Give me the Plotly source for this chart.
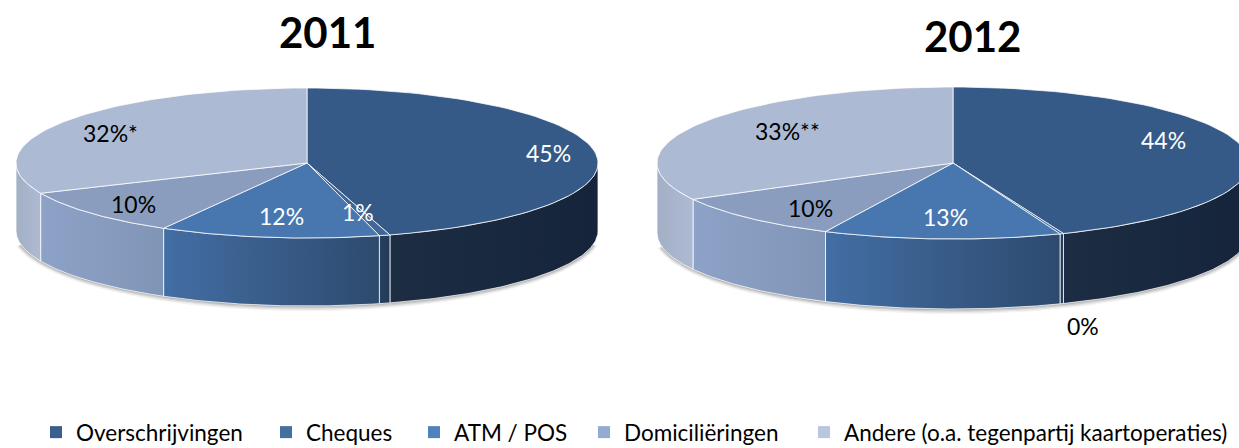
import numpy as np
import plotly.graph_objects as go

# ---- data ----
categories = ["Overschrijvingen", "Cheques", "ATM / POS", "Domiciliëringen",
              "Andere (o.a. tegenpartij kaartoperaties)"]
values_2011 = [45.4, 0.6, 12.2, 10.2, 31.6]
values_2012 = [44, 0.2, 13, 10, 33]
labels_2011 = ["45%", "1%", "12%", "10%", "32%*"]
labels_2012 = ["44%", "0%", "13%", "10%", "33%**"]

# ---- styling ----
top_colors = ["#365A87", "#3F6899", "#4877B0", "#8A9DBF", "#ADBAD3"]
legend_colors = ["#3A5F8F", "#44709F", "#4F81BD", "#95A9D2", "#B9C6E0"]
wall_colors = [("#1C2D44", "#15243A"), ("#27405F", "#233A58"), ("#436EA4", "#2D4A6E"),
               ("#8DA2C7", "#8095B6"), ("#A3AFC5", "#ADBAD3")]
EDGE = "rgba(255,255,255,0.75)"


def arc(cx, cy, rx, ry, a0, a1, n=80):
    t = np.radians(np.linspace(a0, a1, n))
    return cx + rx * np.sin(t), cy - ry * np.cos(t)


def add_pie(fig, values, cx, cy, rx, ry, depth):
    # soft shadow below the body
    for grow, alpha in [(4, 0.06), (3, 0.09), (2, 0.13), (1, 0.18)]:
        x, y = arc(cx, cy + depth + grow * 0.3, rx + grow, ry + grow, 100, 260)
        fig.add_trace(go.Scatter(x=np.r_[x, x[0]], y=np.r_[y, y[0]], mode="lines", fill="toself",
                                 line=dict(width=0), fillcolor=f"rgba(60,60,60,{alpha})",
                                 hoverinfo="skip", showlegend=False))
    total = sum(values)
    edges = np.r_[0, np.cumsum(values)] / total * 360
    # walls: only the part of each slice facing the viewer
    for i in range(len(values)):
        a0, a1 = max(edges[i], 90), min(edges[i + 1], 270)
        if a1 <= a0:
            continue
        x, y = arc(cx, cy, rx, ry, a0, a1)
        xs = np.r_[x, x[::-1], x[0]]
        ys = np.r_[y, y[::-1] + depth, y[0]]
        fig.add_trace(go.Scatter(x=xs, y=ys, mode="lines", fill="toself",
                                 line=dict(color=EDGE, width=1),
                                 fillgradient=dict(type="horizontal",
                                                   colorscale=[[0, wall_colors[i][0]],
                                                               [1, wall_colors[i][1]]]),
                                 hoverinfo="skip", showlegend=False))
    # top surface
    for i in range(len(values)):
        x, y = arc(cx, cy, rx, ry, edges[i], edges[i + 1])
        fig.add_trace(go.Scatter(x=np.r_[cx, x, cx], y=np.r_[cy, y, cy], mode="lines", fill="toself",
                                 line=dict(color=EDGE, width=1), fillcolor=top_colors[i],
                                 hoverinfo="skip", showlegend=False))


fig = go.Figure()
add_pie(fig, values_2011, 307, 163, 291, 75, 68)
add_pie(fig, values_2012, 953, 163, 296, 76, 70)

FONT = "Lato, Carlito, Calibri, sans-serif"

# one legend per entry so each can sit where the reference puts it
legend_left_px = [36, 266, 414, 584, 804]
legend_layout = {}
for i, (name, col, left) in enumerate(zip(categories, legend_colors, legend_left_px)):
    key = "legend" if i == 0 else f"legend{i + 1}"
    fig.add_trace(go.Scatter(x=[None], y=[None], mode="markers", name=name, legend=key,
                             marker=dict(symbol="square", size=12, color=col)))
    legend_layout[key] = dict(x=left / 1239, y=(448 - 411) / 448, xanchor="left", yanchor="top",
                              orientation="h",
                              font=dict(family=FONT, size=22.5, color="black"),
                              bgcolor="rgba(0,0,0,0)", itemclick=False, itemdoubleclick=False)

label_pos_2011 = [(548, 153), (358, 212), (281, 216), (133, 204), (110, 133)]
label_pos_2012 = [(1163, 140), (1083, 326), (945, 217), (810, 208), (787, 131)]
label_col_2011 = ["white", "white", "white", "black", "black"]
label_col_2012 = ["white", "black", "white", "black", "black"]
ann = []
for labs, pos, cols in [(labels_2011, label_pos_2011, label_col_2011),
                        (labels_2012, label_pos_2012, label_col_2012)]:
    for t, (px, py), c in zip(labs, pos, cols):
        ann.append(dict(x=px, y=py, text=t, showarrow=False, xref="x", yref="y",
                        font=dict(family=FONT, size=23, color=c)))
for t, px, py in [("2011", 327, 32), ("2012", 972, 36)]:
    ann.append(dict(x=px, y=py, text=f"<b>{t}</b>", showarrow=False, xref="x", yref="y",
                    font=dict(family=FONT, size=42, color="black")))

fig.update_layout(
    width=1239, height=448, margin=dict(l=0, r=0, t=0, b=0, autoexpand=False),
    paper_bgcolor="white", plot_bgcolor="white",
    xaxis=dict(range=[0, 1239], visible=False, fixedrange=True),
    yaxis=dict(range=[448, 0], visible=False, fixedrange=True),
    annotations=ann,
    **legend_layout,
)
fig.write_html("out.html", post_script="document.body.style.margin='0';",
               config=dict(displayModeBar=False))
